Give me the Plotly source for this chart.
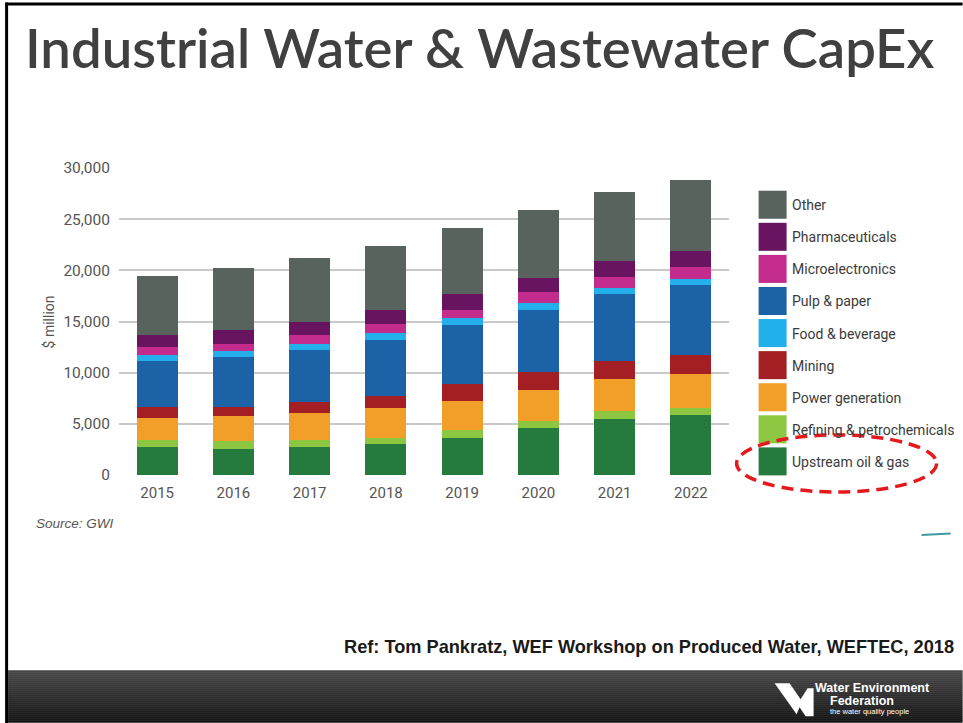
import plotly.graph_objects as go

# Industrial water & wastewater capital expenditure by sector ($ million)
years = ["2015", "2016", "2017", "2018", "2019", "2020", "2021", "2022"]

upstream_oil_gas = [2700, 2570, 2770, 3000, 3650, 4560, 5440, 5830]
refining_petrochem = [720, 790, 650, 650, 710, 720, 850, 750]
power_generation = [2180, 2370, 2610, 2860, 2900, 3060, 3120, 3260]
mining = [1080, 950, 1070, 1240, 1600, 1730, 1730, 1890]
pulp_paper = [4460, 4820, 5080, 5440, 5830, 6090, 6510, 6870]
food_beverage = [620, 580, 620, 650, 650, 620, 620, 520]
microelectronics = [780, 720, 850, 920, 820, 1100, 1050, 1170]
pharmaceuticals = [1170, 1370, 1270, 1330, 1530, 1400, 1590, 1630]
other = [5770, 6090, 6320, 6320, 6480, 6620, 6740, 6910]

y_ticks = [0, 5000, 10000, 15000, 20000, 25000, 30000]

# stacking order, bottom to top
stack = [
    ("Upstream oil & gas", upstream_oil_gas, "#247b3d"),
    ("Refining & petrochemicals", refining_petrochem, "#8dc641"),
    ("Power generation", power_generation, "#f29f2a"),
    ("Mining", mining, "#a31f24"),
    ("Pulp & paper", pulp_paper, "#1b62a6"),
    ("Food & beverage", food_beverage, "#22afea"),
    ("Microelectronics", microelectronics, "#c32b8d"),
    ("Pharmaceuticals", pharmaceuticals, "#691461"),
    ("Other", other, "#58635d"),
]
# legend order, top to bottom
legend_order = ["Other", "Pharmaceuticals", "Microelectronics", "Pulp & paper",
                "Food & beverage", "Mining", "Power generation",
                "Refining & petrochemicals", "Upstream oil & gas"]

W, H = 963, 723
PLOT_L, PLOT_R, PLOT_T, PLOT_B = 119.4, 729.4, 168.3, 475.0

def px(x):
    return (x - PLOT_L) / (PLOT_R - PLOT_L)

def py(y):
    return (PLOT_B - y) / (PLOT_B - PLOT_T)

SANS = "Roboto, sans-serif"

fig = go.Figure()
for name, vals, color in stack:
    fig.add_trace(go.Bar(x=years, y=vals, name=name, marker=dict(color=color, line=dict(width=0)),
                         showlegend=False))

shapes = []
annotations = []

# slide frame
shapes.append(dict(type="line", xref="paper", yref="paper", x0=px(7), x1=px(7), y0=py(3), y1=py(723),
                   line=dict(color="#000000", width=3), layer="above"))
shapes.append(dict(type="line", xref="paper", yref="paper", x0=px(6), x1=px(963), y0=py(4.5), y1=py(4.5),
                   line=dict(color="#000000", width=3), layer="above"))

# dark footer band with a vertical gradient
n_strips = 26
top, bot = 670.0, 722.0
c0, c1 = (0x46, 0x46, 0x46), (0x14, 0x14, 0x14)
for i in range(n_strips):
    t = i / (n_strips - 1)
    col = "rgb({},{},{})".format(*[int(a + (b - a) * t) for a, b in zip(c0, c1)])
    y0 = top + (bot - top) * i / n_strips
    y1 = top + (bot - top) * (i + 1) / n_strips + 0.5
    shapes.append(dict(type="rect", xref="paper", yref="paper", x0=px(8.5), x1=px(963),
                       y0=py(y1), y1=py(y0), fillcolor=col, line=dict(width=0), layer="below"))

# WEF logo mark
def pth(points):
    return "M" + " L".join("{:.5f},{:.5f}".format(px(a), py(b)) for a, b in points) + " Z"

shapes.append(dict(type="path", xref="paper", yref="paper",
                   path=pth([(775, 683), (790, 683), (801, 699), (808, 688), (814, 688),
                             (814, 716), (806, 716), (800, 707), (797, 714)]),
                   fillcolor="#ffffff", line=dict(width=0), layer="above"))

# legend built from the series list
row0, row_step = 205.0, 32.05
color_of = {n: c for n, _, c in stack}
for i, name in enumerate(legend_order):
    yc = row0 + i * row_step
    shapes.append(dict(type="rect", xref="paper", yref="paper", x0=px(759), x1=px(787),
                       y0=py(yc + 14), y1=py(yc - 14), fillcolor=color_of[name],
                       line=dict(width=0)))
    annotations.append(dict(xref="paper", yref="paper", x=px(790), y=py(yc + 0.5), text=name,
                            showarrow=False, xanchor="left", yanchor="middle",
                            font=dict(family=SANS, size=14, color="#3b3b3b")))

# highlight ring around the upstream oil & gas entry
shapes.append(dict(type="circle", xref="paper", yref="paper", x0=px(737), x1=px(937),
                   y0=py(492), y1=py(435), line=dict(color="#e5191d", width=3.5, dash="12px,7px"),
                   fillcolor="rgba(0,0,0,0)", layer="above"))

# small teal stroke on the right margin
shapes.append(dict(type="line", xref="paper", yref="paper", x0=px(922), x1=px(951),
                   y0=py(535), y1=py(533.5), line=dict(color="#3f9aa0", width=2)))

# title
annotations.append(dict(xref="paper", yref="paper", x=px(23), y=py(47),
                        text="Industrial Water & Wastewater CapEx",
                        showarrow=False, xanchor="left", yanchor="middle",
                        font=dict(family="Lato, Liberation Sans, sans-serif", size=54.5, weight=600,
                                  color="#404040")))

# y-axis title
annotations.append(dict(xref="paper", yref="paper", x=px(49), y=py(322), text="$ million", textangle=-90,
                        showarrow=False, xanchor="center", yanchor="middle",
                        font=dict(family=SANS, size=14, color="#555555")))

# source note
annotations.append(dict(xref="paper", yref="paper", x=px(34), y=py(523), text="<i>Source: GWI</i>",
                        showarrow=False, xanchor="left", yanchor="middle",
                        font=dict(family="Liberation Sans, sans-serif", size=13.5, color="#555555")))

# reference line
annotations.append(dict(xref="paper", yref="paper", x=px(956), y=py(647),
                        text="<b>Ref: Tom Pankratz, WEF Workshop on Produced Water, WEFTEC, 2018</b>",
                        showarrow=False, xanchor="right", yanchor="middle",
                        font=dict(family="Liberation Sans, sans-serif", size=18.2, color="#1a1a1a")))

# footer logo text
annotations.append(dict(xref="paper", yref="paper", x=px(813), y=py(688), text="<b>Water Environment</b>",
                        showarrow=False, xanchor="left", yanchor="middle",
                        font=dict(family="Liberation Sans, sans-serif", size=12.5, color="#ffffff")))
annotations.append(dict(xref="paper", yref="paper", x=px(828), y=py(701), text="<b>Federation</b>",
                        showarrow=False, xanchor="left", yanchor="middle",
                        font=dict(family="Liberation Sans, sans-serif", size=12.5, color="#ffffff")))
annotations.append(dict(xref="paper", yref="paper", x=px(828), y=py(711.5), text="the water quality people",
                        showarrow=False, xanchor="left", yanchor="middle",
                        font=dict(family="Liberation Sans, sans-serif", size=7.5, color="#ffffff")))

fig.update_layout(
    width=W, height=H,
    margin=dict(l=PLOT_L, r=W - PLOT_R, t=PLOT_T, b=H - PLOT_B, pad=0, autoexpand=False),
    paper_bgcolor="#ffffff", plot_bgcolor="#ffffff",
    barmode="stack", bargap=0.46,
    showlegend=False,
    shapes=shapes, annotations=annotations,
    xaxis=dict(type="category", showgrid=False, zeroline=False, showline=False, ticks="",
               tickfont=dict(family=SANS, size=15, color="#555555"), ticklabelstandoff=7),
    yaxis=dict(range=[0, 30000], tickvals=y_ticks, tickformat=",d", showgrid=True,
               gridcolor="#c9c9c9", gridwidth=1.5, zeroline=False, showline=False, ticks="",
               tickfont=dict(family=SANS, size=15.5, color="#555555"), ticklabelstandoff=8),
)

fig.write_html("out.html")
